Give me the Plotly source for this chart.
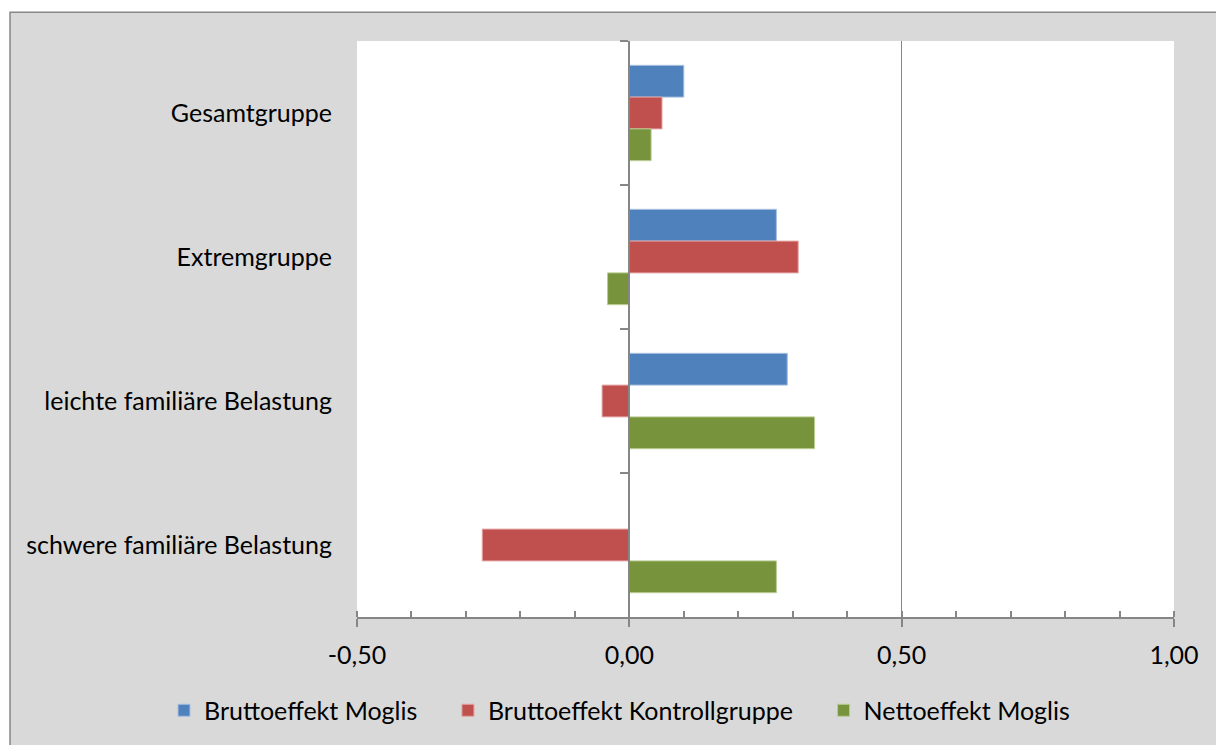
import plotly.graph_objects as go

# Categories (top to bottom) and effect sizes per series
categories = ["Gesamtgruppe", "Extremgruppe", "leichte familiäre Belastung", "schwere familiäre Belastung"]
brutto_moglis = [0.10, 0.27, 0.29, 0.0]
brutto_kontroll = [0.06, 0.31, -0.05, -0.27]
netto_moglis = [0.04, -0.04, 0.34, 0.27]

series_names = ["Bruttoeffekt Moglis", "Bruttoeffekt Kontrollgruppe", "Nettoeffekt Moglis"]
series_colors = ["#4f81bd", "#c0504d", "#77933c"]
edge_colors = ["#a7c0e0", "#e3a3a1", "#b9cc93"]

x_tick_vals = [-0.5, 0.0, 0.5, 1.0]
x_tick_text = ["-0,50", "0,00", "0,50", "1,00"]

FONT = "Lato"
FS = 25
GRAY = "#868686"
PAD = "\u00a0" * 4

W, H = 1216, 745
ML, MR, MT, MB = 357, 42, 41, 125
PW, PH = W - ML - MR, H - MT - MB

def px_to_paper_x(px):
    return (px - ML) / PW

def px_to_paper_y(py):
    return (H - MB - py) / PH

fig = go.Figure()
for name, vals, col, edge in zip(series_names, [brutto_moglis, brutto_kontroll, netto_moglis], series_colors, edge_colors):
    label = name + (PAD if name != series_names[-1] else "")
    fig.add_trace(go.Bar(
        y=categories, x=vals, orientation="h", name=label,
        marker=dict(color=col, line=dict(color=edge, width=1)),
        hoverinfo="x+name",
    ))

# helper trace so the zero axis gets its category boundary ticks
fig.add_trace(go.Scatter(
    y=categories, x=[0] * len(categories), yaxis="y2", mode="markers",
    marker=dict(opacity=0), showlegend=False, hoverinfo="skip",
))

cat_range = [len(categories) - 0.5, -0.5]

fig.update_layout(
    width=W, height=H,
    margin=dict(l=ML, r=MR, t=MT, b=MB),
    paper_bgcolor="white", plot_bgcolor="rgba(0,0,0,0)",
    font=dict(family=FONT, size=FS, color="#000000"),
    barmode="group", bargap=0.338, bargroupgap=0,
    showlegend=True,
    legend=dict(
        orientation="h", x=px_to_paper_x(164), xanchor="left",
        y=px_to_paper_y(714), yanchor="middle",
        font=dict(family=FONT, size=FS), bgcolor="rgba(0,0,0,0)",
        traceorder="normal",
    ),
    xaxis=dict(
        range=[-0.5, 1.0], tickvals=x_tick_vals, ticktext=x_tick_text,
        showgrid=True, gridcolor=GRAY, gridwidth=1,
        zeroline=False, showline=True, linecolor=GRAY, linewidth=2,
        ticks="outside", ticklen=8, tickwidth=2, tickcolor=GRAY,
        ticklabelstandoff=7,
        minor=dict(dtick=0.1, ticks="inside", ticklen=6, tickwidth=1.5, tickcolor=GRAY, showgrid=False),
        tickfont=dict(family=FONT, size=FS),
        fixedrange=True,
    ),
    yaxis=dict(
        type="category", categoryorder="array", categoryarray=categories,
        range=cat_range, autorange=False,
        showgrid=False, zeroline=False, showline=False,
        ticks="", ticklabelstandoff=24,
        tickfont=dict(family=FONT, size=FS),
        fixedrange=True,
    ),
    yaxis2=dict(
        type="category", categoryorder="array", categoryarray=categories,
        range=cat_range, autorange=False,
        overlaying="y", anchor="free", position=1 / 3,
        showgrid=False, zeroline=False, showline=True, linecolor=GRAY, linewidth=2,
        ticks="outside", tickson="boundaries", ticklen=8, tickwidth=2, tickcolor=GRAY,
        showticklabels=False, fixedrange=True,
    ),
    shapes=[
        # grey chart background with its frame
        dict(type="rect", xref="paper", yref="paper", layer="below",
             x0=px_to_paper_x(10), x1=px_to_paper_x(W + 20),
             y0=px_to_paper_y(H + 20), y1=px_to_paper_y(12),
             fillcolor="#d9d9d9", line=dict(color="#878787", width=1.5)),
        # white plot area
        dict(type="rect", xref="paper", yref="paper", layer="below",
             x0=0, x1=1, y0=0, y1=1, fillcolor="white", line=dict(width=0)),
    ],
)

fig.write_html("out.html", config={"displayModeBar": False})
